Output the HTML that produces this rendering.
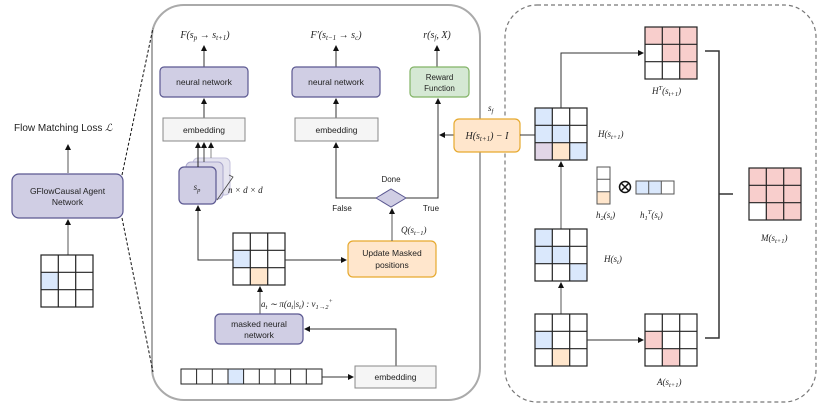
<!DOCTYPE html>
<html><head><meta charset="utf-8"><style>
html,body{margin:0;padding:0;background:#fff}
svg{display:block}
text{font-family:"Liberation Sans",sans-serif;fill:#222}
.m{font-family:"Liberation Serif",serif;font-style:italic}
</style></head><body>
<svg width="830" height="411" viewBox="0 0 830 411" xmlns="http://www.w3.org/2000/svg">
<defs>
<marker id="a" markerWidth="6" markerHeight="6" refX="5" refY="3" orient="auto" markerUnits="userSpaceOnUse"><path d="M0,0 L6,3 L0,6 z" fill="#111"/></marker>
</defs>
<!-- panels -->
<rect x="152" y="5" width="328" height="395" rx="32" fill="none" stroke="#aaa" stroke-width="2"/>
<rect x="505" y="5" width="311" height="397" rx="32" fill="none" stroke="#777" stroke-width="1.2" stroke-dasharray="4,3"/>
<line x1="122" y1="175" x2="153" y2="28" stroke="#111" stroke-dasharray="3,2"/>
<line x1="122" y1="218" x2="153" y2="372" stroke="#111" stroke-dasharray="3,2"/>

<!-- left -->
<text x="14" y="131" font-size="10">Flow Matching Loss <tspan class="m">ℒ</tspan></text>
<line x1="68" y1="173" x2="68" y2="145" stroke="#555" marker-end="url(#a)"/>
<rect x="12" y="174" width="111" height="44" rx="7" fill="#d0cee4" stroke="#5b5891" stroke-width="1.2"/>
<text x="67.5" y="194" font-size="8.5" text-anchor="middle">GFlowCausal Agent</text>
<text x="67.5" y="205" font-size="8.5" text-anchor="middle">Network</text>
<line x1="68" y1="255" x2="68" y2="220" stroke="#555" marker-end="url(#a)"/>
<g transform="translate(41,255)">
<rect x="0" y="17.3" width="17.3" height="17.3" fill="#dae8fc"/>
<rect width="52" height="52" fill="none" stroke="#222" stroke-width="1.2"/>
<path d="M17.3,0V52M34.7,0V52M0,17.3H52M0,34.7H52" stroke="#222" stroke-width="1.2"/>
</g>

<!-- middle top labels -->
<text x="205" y="38" font-size="10" class="m" text-anchor="middle">F(s<tspan font-size="7" dy="2">p</tspan><tspan dy="-2"> → s</tspan><tspan font-size="7" dy="2">t+1</tspan><tspan dy="-2">)</tspan></text>
<text x="336" y="38" font-size="10" class="m" text-anchor="middle">F′(s<tspan font-size="7" dy="2">t−1</tspan><tspan dy="-2"> → s</tspan><tspan font-size="7" dy="2">c</tspan><tspan dy="-2">)</tspan></text>
<text x="437" y="38" font-size="10" class="m" text-anchor="middle">r(s<tspan font-size="7" dy="2">f</tspan><tspan dy="-2">, X)</tspan></text>
<line x1="204" y1="67" x2="204" y2="46" stroke="#333" marker-end="url(#a)"/>
<line x1="336" y1="67" x2="336" y2="46" stroke="#333" marker-end="url(#a)"/>
<line x1="437" y1="67" x2="437" y2="46" stroke="#333" marker-end="url(#a)"/>
<rect x="160" y="67" width="88" height="30" rx="4" fill="#d0cee4" stroke="#5b5891" stroke-width="1.2"/>
<text x="204" y="85" font-size="8.5" text-anchor="middle">neural network</text>
<rect x="292" y="67" width="88" height="30" rx="4" fill="#d0cee4" stroke="#5b5891" stroke-width="1.2"/>
<text x="336" y="85" font-size="8.5" text-anchor="middle">neural network</text>
<rect x="410" y="67" width="59" height="30" rx="4" fill="#d5e8d4" stroke="#82b366" stroke-width="1.2"/>
<text x="439.5" y="80" font-size="8" text-anchor="middle">Reward</text>
<text x="439.5" y="91" font-size="8" text-anchor="middle">Function</text>
<line x1="204" y1="118" x2="204" y2="99" stroke="#333" marker-end="url(#a)"/>
<line x1="336" y1="118" x2="336" y2="99" stroke="#333" marker-end="url(#a)"/>
<rect x="163" y="118" width="82" height="23" fill="#f5f5f5" stroke="#888" stroke-width="1"/>
<text x="204" y="133" font-size="8.5" text-anchor="middle">embedding</text>
<rect x="295" y="118" width="83" height="23" fill="#f5f5f5" stroke="#888" stroke-width="1"/>
<text x="336.5" y="133" font-size="8.5" text-anchor="middle">embedding</text>

<!-- sp stack -->
<rect x="193" y="158" width="37" height="37" rx="5" fill="#e6e5f0" stroke="#c4c2dc"/>
<rect x="186" y="162" width="37" height="37" rx="5" fill="#dcdaea" stroke="#a9a6cc"/>
<rect x="179" y="167" width="37" height="37" rx="5" fill="#d0cee4" stroke="#5b5891" stroke-width="1.2"/>
<text x="197" y="190" font-size="9" class="m" text-anchor="middle">s<tspan font-size="6.5" dy="2">p</tspan></text>
<line x1="198" y1="167" x2="198" y2="143" stroke="#222" marker-end="url(#a)"/>
<line x1="204" y1="162" x2="204" y2="143" stroke="#444" marker-end="url(#a)"/>
<line x1="211" y1="158" x2="211" y2="143" stroke="#888" marker-end="url(#a)"/>
<path d="M229,175 L233,177 L217,200" fill="none" stroke="#444" stroke-width="0.8"/>
<text x="228" y="193" font-size="9" class="m">n × d × d</text>

<!-- done diamond -->
<text x="391" y="182" font-size="8" text-anchor="middle">Done</text>
<path d="M376,198 L391,189 L406,198 L391,207 z" fill="#d0cee4" stroke="#5b5891"/>
<text x="342" y="211" font-size="8" text-anchor="middle">False</text>
<text x="431" y="211" font-size="8" text-anchor="middle">True</text>
<path d="M376,198 H336 V143" fill="none" stroke="#333" marker-end="url(#a)"/>
<path d="M406,198 H438 V99" fill="none" stroke="#333" marker-end="url(#a)"/>
<line x1="454" y1="135" x2="440" y2="135" stroke="#333" marker-end="url(#a)"/>
<rect x="454" y="119" width="66" height="33" rx="5" fill="#ffe6cc" stroke="#e6a92e" stroke-width="1.2"/>
<text x="487" y="139" font-size="10" class="m" text-anchor="middle">H(s<tspan font-size="7" dy="2">t+1</tspan><tspan dy="-2">) − I</tspan></text>
<text x="488" y="111" font-size="9" class="m">s<tspan font-size="6.5" dy="2">f</tspan></text>

<!-- middle grid -->
<path d="M233,260 H198 V206" fill="none" stroke="#333" marker-end="url(#a)"/>
<g transform="translate(233,233)">
<rect x="0" y="17.3" width="17.3" height="17.3" fill="#dae8fc"/>
<rect x="17.3" y="34.7" width="17.3" height="17.3" fill="#ffe6cc"/>
<rect width="52" height="52" fill="none" stroke="#222" stroke-width="1.2"/>
<path d="M17.3,0V52M34.7,0V52M0,17.3H52M0,34.7H52" stroke="#222" stroke-width="1.2"/>
</g>
<line x1="285" y1="260" x2="346" y2="260" stroke="#333" marker-end="url(#a)"/>
<rect x="348" y="241" width="88" height="36" rx="5" fill="#ffe6cc" stroke="#e6a92e" stroke-width="1.2"/>
<text x="392" y="256" font-size="8.5" text-anchor="middle">Update Masked</text>
<text x="392" y="268" font-size="8.5" text-anchor="middle">positions</text>
<line x1="392" y1="241" x2="392" y2="209" stroke="#555" marker-end="url(#a)"/>
<text x="401" y="233" font-size="9" class="m">Q(s<tspan font-size="6.5" dy="2">t−1</tspan><tspan dy="-2">)</tspan></text>
<line x1="260" y1="314" x2="260" y2="287" stroke="#555" marker-end="url(#a)"/>
<text x="261" y="307" font-size="9" class="m">a<tspan font-size="6.5" dy="2">t</tspan><tspan dy="-2"> ∼ π(a</tspan><tspan font-size="6.5" dy="2">t</tspan><tspan dy="-2">|s</tspan><tspan font-size="6.5" dy="2">t</tspan><tspan dy="-2">) : v</tspan><tspan font-size="6.5" dy="2">1→2</tspan><tspan font-size="6.5" dy="-6">+</tspan></text>
<rect x="215" y="314" width="88" height="30" rx="5" fill="#d0cee4" stroke="#5b5891" stroke-width="1.2"/>
<text x="259" y="327" font-size="8.5" text-anchor="middle">masked neural</text>
<text x="259" y="338" font-size="8.5" text-anchor="middle">network</text>
<path d="M396,366 V329 H305" fill="none" stroke="#333" marker-end="url(#a)"/>
<g transform="translate(181,369)">
<rect x="47" y="0" width="15.6" height="15" fill="#dae8fc"/>
<rect width="141" height="15" fill="none" stroke="#222"/>
<path d="M15.6,0V15M31.3,0V15M47,0V15M62.6,0V15M78.3,0V15M94,0V15M109.6,0V15M125.3,0V15" stroke="#222"/>
</g>
<line x1="322" y1="377" x2="353" y2="377" stroke="#333" marker-end="url(#a)"/>
<rect x="355" y="366" width="81" height="22" fill="#f5f5f5" stroke="#888"/>
<text x="395.5" y="380" font-size="8.5" text-anchor="middle">embedding</text>

<!-- right panel -->
<line x1="520" y1="135" x2="535" y2="135" stroke="#333"/>
<g transform="translate(535,108)">
<rect x="0" y="0" width="17.3" height="17.3" fill="#dae8fc"/>
<rect x="0" y="17.3" width="17.3" height="17.3" fill="#dae8fc"/>
<rect x="17.3" y="17.3" width="17.3" height="17.3" fill="#dae8fc"/>
<rect x="0" y="34.7" width="17.3" height="17.3" fill="#e1d5e7"/>
<rect x="17.3" y="34.7" width="17.3" height="17.3" fill="#ffe6cc"/>
<rect x="34.7" y="34.7" width="17.3" height="17.3" fill="#dae8fc"/>
<rect width="52" height="52" fill="none" stroke="#222" stroke-width="1.2"/>
<path d="M17.3,0V52M34.7,0V52M0,17.3H52M0,34.7H52" stroke="#222" stroke-width="1.2"/>
</g>
<text x="598" y="137" font-size="9" class="m">H(s<tspan font-size="6.5" dy="2">t+1</tspan><tspan dy="-2">)</tspan></text>
<path d="M561,108 V53 H643" fill="none" stroke="#333" marker-end="url(#a)"/>
<g transform="translate(645,27)">
<rect x="0" y="0" width="52" height="17.3" fill="#f8cecc"/>
<rect x="17.3" y="17.3" width="34.7" height="17.3" fill="#f8cecc"/>
<rect x="34.7" y="34.7" width="17.3" height="17.3" fill="#f8cecc"/>
<rect width="52" height="52" fill="none" stroke="#222" stroke-width="1.2"/>
<path d="M17.3,0V52M34.7,0V52M0,17.3H52M0,34.7H52" stroke="#222" stroke-width="1.2"/>
</g>
<text x="652" y="94" font-size="9" class="m">H<tspan font-size="6.5" dy="-4">T</tspan><tspan dy="4">(s</tspan><tspan font-size="6.5" dy="2">t+1</tspan><tspan dy="-2">)</tspan></text>
<g transform="translate(597,167)">
<rect x="0" y="24.7" width="13" height="12.3" fill="#ffe6cc"/>
<rect width="13" height="37" fill="none" stroke="#555"/>
<path d="M0,12.3H13M0,24.7H13" stroke="#555"/>
</g>
<circle cx="625" cy="187" r="5.5" fill="none" stroke="#111" stroke-width="1.5"/>
<path d="M621,183 L629,191 M629,183 L621,191" stroke="#111" stroke-width="1.5"/>
<g transform="translate(636,181)">
<rect x="0" y="0" width="25.3" height="13" fill="#dae8fc"/>
<rect width="38" height="13" fill="none" stroke="#555"/>
<path d="M12.7,0V13M25.3,0V13" stroke="#555"/>
</g>
<text x="596" y="218" font-size="9" class="m">h<tspan font-size="6.5" dy="2">2</tspan><tspan dy="-2">(s</tspan><tspan font-size="6.5" dy="2">t</tspan><tspan dy="-2">)</tspan></text>
<text x="640" y="218" font-size="9" class="m">h<tspan font-size="6.5" dy="2">1</tspan><tspan font-size="6.5" dy="-6">T</tspan><tspan dy="4">(s</tspan><tspan font-size="6.5" dy="2">t</tspan><tspan dy="-2">)</tspan></text>
<line x1="561" y1="229" x2="561" y2="162" stroke="#555" marker-end="url(#a)"/>
<g transform="translate(535,229)">
<rect x="0" y="0" width="17.3" height="17.3" fill="#dae8fc"/>
<rect x="0" y="17.3" width="34.7" height="17.3" fill="#dae8fc"/>
<rect x="34.7" y="34.7" width="17.3" height="17.3" fill="#dae8fc"/>
<rect width="52" height="52" fill="none" stroke="#222" stroke-width="1.2"/>
<path d="M17.3,0V52M34.7,0V52M0,17.3H52M0,34.7H52" stroke="#222" stroke-width="1.2"/>
</g>
<text x="604" y="262" font-size="9" class="m">H(s<tspan font-size="6.5" dy="2">t</tspan><tspan dy="-2">)</tspan></text>
<line x1="561" y1="314" x2="561" y2="283" stroke="#555" marker-end="url(#a)"/>
<g transform="translate(535,314)">
<rect x="0" y="17.3" width="17.3" height="17.3" fill="#dae8fc"/>
<rect x="17.3" y="34.7" width="17.3" height="17.3" fill="#ffe6cc"/>
<rect width="52" height="52" fill="none" stroke="#222" stroke-width="1.2"/>
<path d="M17.3,0V52M34.7,0V52M0,17.3H52M0,34.7H52" stroke="#222" stroke-width="1.2"/>
</g>
<line x1="587" y1="340" x2="643" y2="340" stroke="#333" marker-end="url(#a)"/>
<g transform="translate(645,314)">
<rect x="0" y="17.3" width="17.3" height="17.3" fill="#f8cecc"/>
<rect x="17.3" y="34.7" width="17.3" height="17.3" fill="#f8cecc"/>
<rect width="52" height="52" fill="none" stroke="#222" stroke-width="1.2"/>
<path d="M17.3,0V52M34.7,0V52M0,17.3H52M0,34.7H52" stroke="#222" stroke-width="1.2"/>
</g>
<text x="657" y="385" font-size="9" class="m">A(s<tspan font-size="6.5" dy="2">t+1</tspan><tspan dy="-2">)</tspan></text>
<path d="M705,51 H719 V338 H705 M719,194 H733" fill="none" stroke="#333" stroke-width="1.5"/>
<g transform="translate(749,168)">
<rect x="0" y="0" width="52" height="34.7" fill="#f8cecc"/>
<rect x="17.3" y="34.7" width="34.7" height="17.3" fill="#f8cecc"/>
<rect width="52" height="52" fill="none" stroke="#222" stroke-width="1.2"/>
<path d="M17.3,0V52M34.7,0V52M0,17.3H52M0,34.7H52" stroke="#222" stroke-width="1.2"/>
</g>
<text x="761" y="241" font-size="9" class="m">M(s<tspan font-size="6.5" dy="2">t+1</tspan><tspan dy="-2">)</tspan></text>
</svg>
</body></html>
